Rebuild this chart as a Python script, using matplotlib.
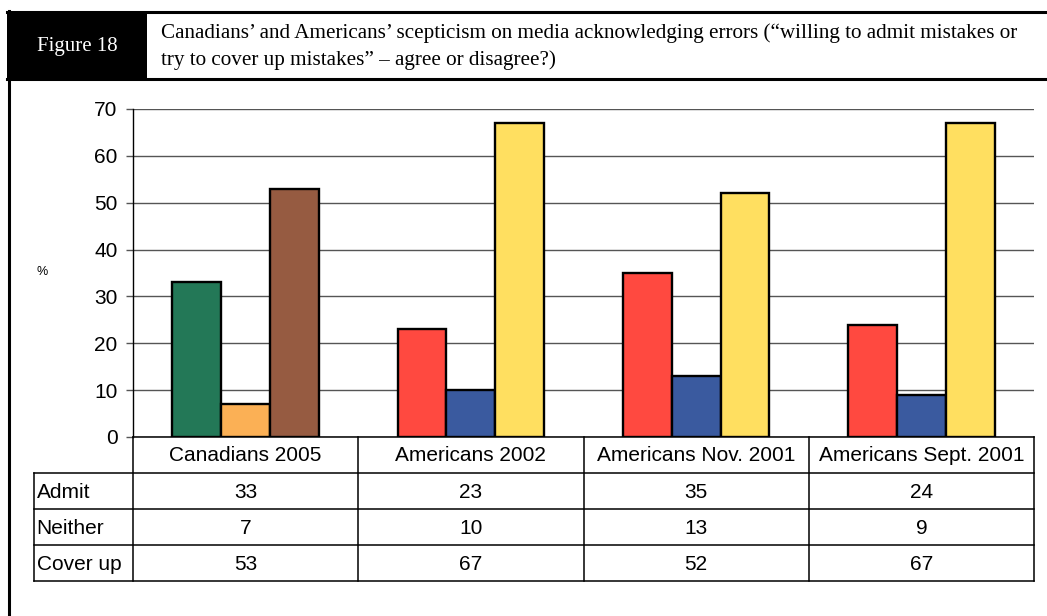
import numpy as np
from matplotlib import pyplot as plt
from matplotlib.lines import Line2D
from matplotlib.patches import Rectangle

W, H = 1047, 616
dpi = 100

categories = ["Canadians 2005", "Americans 2002", "Americans Nov. 2001", "Americans Sept. 2001"]
row_labels = ["Admit", "Neither", "Cover up"]
admit = [33, 23, 35, 24]
neither = [7, 10, 13, 9]
cover_up = [53, 67, 52, 67]

canada_colors = ["#237857", "#FBB055", "#965B41"]
us_colors = ["#FF4940", "#3A5A9F", "#FFDF60"]

title = ("Canadians\u2019 and Americans\u2019 scepticism on media acknowledging errors (\u201cwilling to admit mistakes or\n"
         "try to cover up mistakes\u201d \u2013 agree or disagree?)")


def fx(px):
    return px / W


def fy(py):
    return 1 - py / H


fig = plt.figure(figsize=(W / dpi, H / dpi), dpi=dpi)

# header / frame
fig.add_artist(Rectangle((fx(7), fy(79)), fx(147) - fx(7), fy(11) - fy(79),
                         transform=fig.transFigure, color="black", lw=0))
fig.add_artist(Line2D([fx(7), 1], [fy(12), fy(12)], transform=fig.transFigure, color="black", lw=2.2))
fig.add_artist(Line2D([fx(7), 1], [fy(79), fy(79)], transform=fig.transFigure, color="black", lw=2.2))
fig.add_artist(Line2D([fx(8.5), fx(8.5)], [fy(11), 0], transform=fig.transFigure, color="black", lw=2.2))
fig.text(fx(77), fy(46), "Figure 18", color="white", ha="center", va="center",
         family="Liberation Serif", fontsize=15)
fig.text(fx(161), fy(46.5), title, ha="left", va="center", family="Liberation Serif",
         fontsize=15.2, linespacing=1.5)

# bar chart
x_left, x_right, y_top, y_bot = 133, 1034, 109, 437
ax = fig.add_axes([fx(x_left), fy(y_bot), fx(x_right) - fx(x_left), fy(y_top) - fy(y_bot)])
x = np.arange(len(categories))
bw = 0.217
series = [admit, neither, cover_up]
for k, vals in enumerate(series):
    cols = [canada_colors[k]] + [us_colors[k]] * 3
    ax.bar(x + (k - 1) * bw, vals, bw, color=cols, edgecolor="black", linewidth=1.7, zorder=3)
ax.set_xlim(-0.5, 3.5)
ax.set_ylim(0, 70)
ax.set_yticks(np.arange(0, 71, 10))
ax.yaxis.grid(True, color="#555555", linewidth=1)
ax.set_axisbelow(True)
ax.set_xticks([])
for s in ["top", "right", "bottom"]:
    ax.spines[s].set_visible(False)
ax.spines["left"].set_linewidth(1)
ax.tick_params(axis="y", length=5, width=1, color="#555555", pad=6, labelsize=15,
               labelfontfamily="Liberation Sans")
fig.text(fx(42), fy(272), "%", ha="center", va="center", fontsize=9, family="Liberation Sans")

# data table below the bars
row_h = 36
label_w = (x_left - 34) / ((x_right - x_left) / 4)
ax_t = fig.add_axes([fx(34), fy(y_bot + 4 * row_h), fx(x_right) - fx(34), fy(y_bot) - fy(y_bot + 4 * row_h)])
ax_t.set_xlim(-0.5 - label_w, 3.5)
ax_t.set_ylim(4, 0)
ax_t.axis("off")
lk = dict(color="black", lw=1.1, clip_on=False)
ax_t.plot([-0.5, 3.5], [0, 0], **lk)
for r in range(1, 5):
    ax_t.plot([-0.5 - label_w, 3.5], [r, r], **lk)
ax_t.plot([-0.5 - label_w, -0.5 - label_w], [1, 4], **lk)
for b in np.arange(-0.5, 3.6, 1):
    ax_t.plot([b, b], [0, 4], **lk)
tk = dict(family="Liberation Sans", fontsize=15, va="center")
for i, c in enumerate(categories):
    ax_t.text(i, 0.52, c, ha="center", **tk)
for r, (lab, vals) in enumerate(zip(row_labels, series)):
    ax_t.text(-0.5 - label_w + 0.012, r + 1.55, lab, ha="left", **tk)
    for i, v in enumerate(vals):
        ax_t.text(i, r + 1.55, str(v), ha="center", **tk)

fig.savefig("out.png", dpi=dpi)
